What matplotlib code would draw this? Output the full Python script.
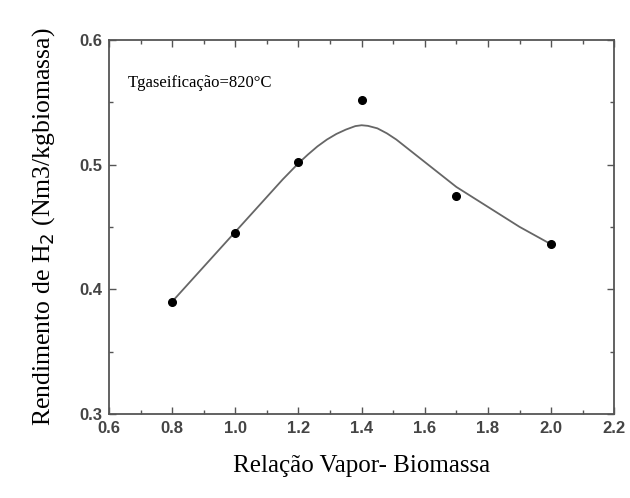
import matplotlib
matplotlib.use("Agg")
import matplotlib.pyplot as plt
from matplotlib.ticker import MultipleLocator

# measured points
razao = [0.8, 1.0, 1.2, 1.4, 1.7, 2.0]
rendimento = [0.390, 0.445, 0.502, 0.552, 0.475, 0.436]

# smooth fitted curve
curva_x = [0.8, 0.9, 1.0, 1.1, 1.15, 1.2, 1.23, 1.26, 1.29, 1.32, 1.35, 1.38,
           1.40, 1.42, 1.45, 1.48, 1.51, 1.55, 1.60, 1.65, 1.70, 1.75, 1.80,
           1.85, 1.90, 1.95, 2.0]
curva_y = [0.390, 0.418, 0.446, 0.474, 0.488, 0.501, 0.508, 0.5145, 0.520, 0.5245,
           0.528, 0.5308, 0.5315, 0.531, 0.529, 0.525, 0.520, 0.512, 0.502, 0.492,
           0.482, 0.474, 0.466, 0.458, 0.450, 0.443, 0.436]

fig = plt.figure(figsize=(6.3, 4.98), dpi=100)
ax = fig.add_axes([0.173, 0.169, 0.802, 0.751])

ax.plot(curva_x, curva_y, color="#666666", lw=1.3)
ax.plot(razao, rendimento, "o", color="black", ms=5.5)

ax.set_xlim(0.6, 2.2)
ax.set_ylim(0.3, 0.6)
ax.xaxis.set_major_locator(MultipleLocator(0.2))
ax.xaxis.set_minor_locator(MultipleLocator(0.1))
ax.yaxis.set_major_locator(MultipleLocator(0.1))
ax.yaxis.set_minor_locator(MultipleLocator(0.05))
ax.tick_params(which="both", direction="in", top=True, right=True, colors="#555555",
               labelcolor="#444444")
ax.tick_params(which="major", length=5, width=1, pad=5)
ax.tick_params(which="minor", length=3, width=1)
for lab in ax.get_xticklabels() + ax.get_yticklabels():
    lab.set_fontweight("bold")
    lab.set_fontsize(12)
    lab.set_family("Liberation Sans")
for s in ax.spines.values():
    s.set_color("#555555")
    s.set_linewidth(1.3)

ax.set_xlabel("Relação Vapor- Biomassa", family="Liberation Serif", fontsize=18, labelpad=14)
ax.set_ylabel("Rendimento de H$_2$ (Nm3/kgbiomassa)", family="Liberation Serif",
              fontsize=18.5, labelpad=16)
ax.text(0.66, 0.565, "Tgaseificação=820°C", family="Liberation Serif", fontsize=12,
        va="center")

fig.savefig("out.png", dpi=100)
